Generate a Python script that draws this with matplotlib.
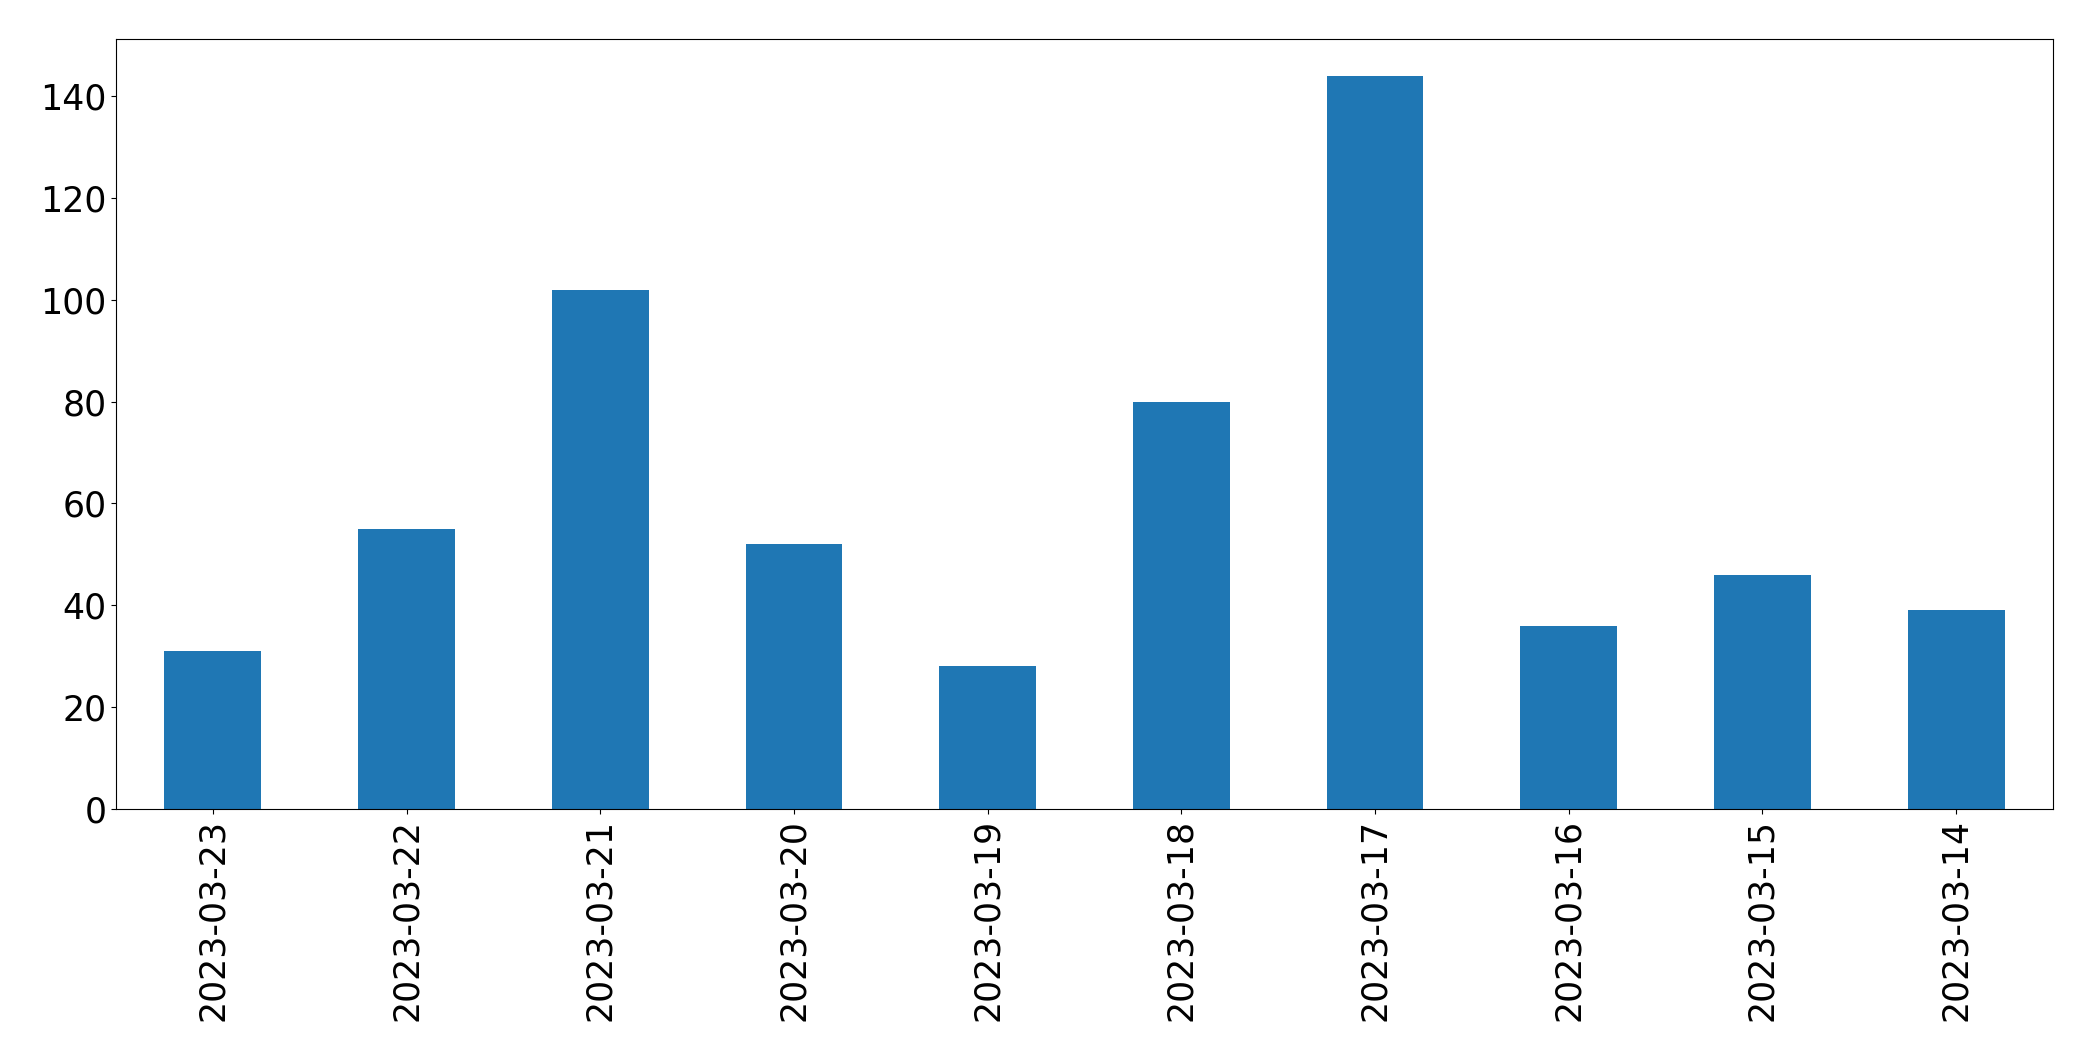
import matplotlib
matplotlib.use("Agg")
import matplotlib.pyplot as plt
import pandas as pd

dates = ["2023-03-23", "2023-03-22", "2023-03-21", "2023-03-20", "2023-03-19",
         "2023-03-18", "2023-03-17", "2023-03-16", "2023-03-15", "2023-03-14"]
counts = [31, 55, 102, 52, 28, 80, 144, 36, 46, 39]

s = pd.Series(counts, index=dates)

fig = plt.figure(figsize=(20.93, 10.61), dpi=100)
ax = fig.add_axes([116 / 2093, 1 - 809 / 1061, (2053 - 116) / 2093, (809 - 39) / 1061])
s.plot(kind="bar", ax=ax, color="#1f77b4", fontsize=25)
ax.tick_params(axis="x", labelrotation=90)

fig.savefig("out.png", dpi=100)
